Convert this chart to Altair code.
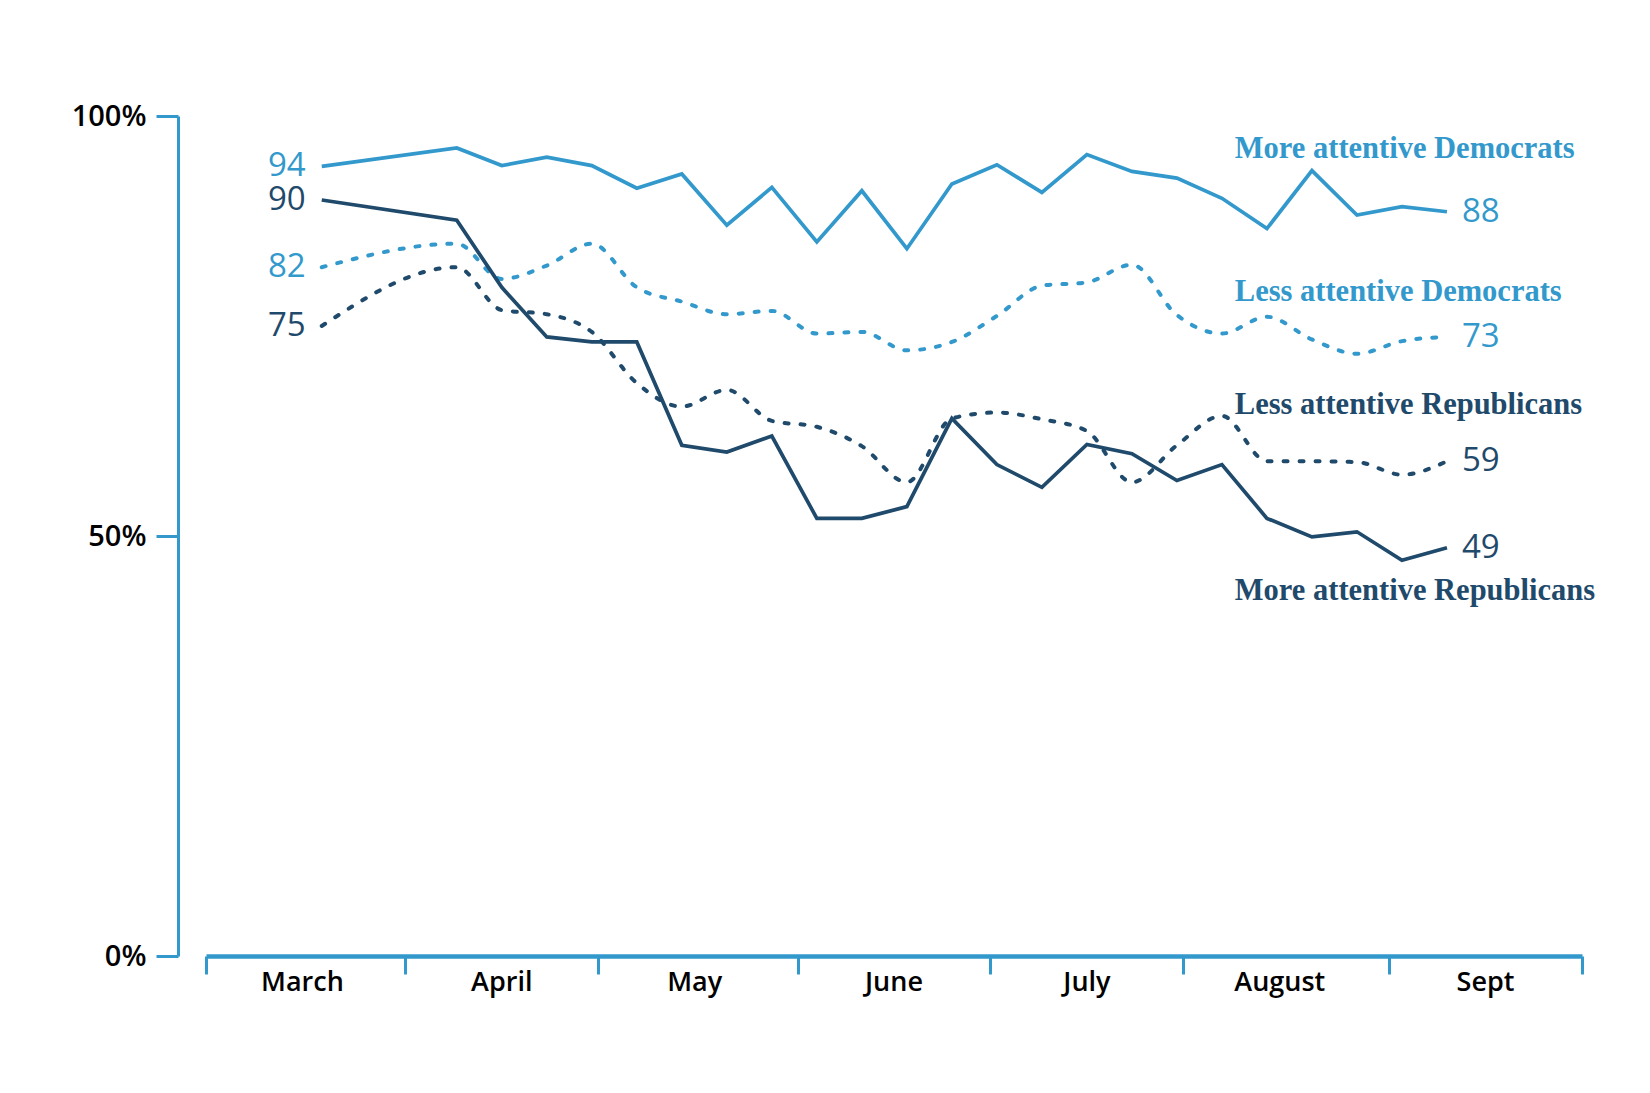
import altair as alt
import pandas as pd

# Survey dates (weekly after a gap)
dates = ["2020-03-19", "2020-04-09", "2020-04-16", "2020-04-23", "2020-04-30",
         "2020-05-07", "2020-05-14", "2020-05-21", "2020-05-28", "2020-06-04",
         "2020-06-11", "2020-06-18", "2020-06-25", "2020-07-02", "2020-07-09",
         "2020-07-16", "2020-07-23", "2020-07-30", "2020-08-06", "2020-08-13",
         "2020-08-20", "2020-08-27", "2020-09-03", "2020-09-10"]

more_dem = [94, 96.2, 94.1, 95.1, 94.1, 91.4, 93.1, 87.0, 91.5, 85.0, 91.1, 84.2,
            91.9, 94.2, 90.9, 95.4, 93.4, 92.6, 90.2, 86.6, 93.5, 88.2, 89.2, 88.6]
less_dem = [82, 84.8, 80.6, 82.2, 84.8, 79.6, 77.9, 76.4, 76.8, 74.1, 74.3, 72.1,
            73.1, 76.2, 79.8, 80.2, 82.3, 76.3, 74.1, 76.1, 73.4, 71.7, 73.2, 73.7]
less_rep = [75, 82.0, 76.9, 76.4, 74.3, 68.2, 65.4, 67.4, 63.7, 63.0, 60.7, 56.4,
            64.0, 64.7, 63.9, 62.5, 56.4, 60.8, 64.3, 58.9, 58.9, 58.8, 57.3, 58.9]
more_rep = [90, 87.6, 79.6, 73.7, 73.1, 73.1, 60.8, 60.0, 61.9, 52.1, 52.1, 53.5,
            64.0, 58.5, 55.8, 60.9, 59.8, 56.6, 58.5, 52.1, 49.9, 50.5, 47.1, 48.6]

series_names = ["More attentive Democrats", "Less attentive Democrats",
                "Less attentive Republicans", "More attentive Republicans"]
series_kind = ["solid", "dotted", "dotted", "solid"]
series_colors = ["#3399cc", "#3399cc", "#1f4a6b", "#1f4a6b"]
series_values = [more_dem, less_dem, less_rep, more_rep]

start_labels = ["94", "82", "75", "90"]
end_labels = ["88", "73", "59", "49"]

# series-name annotation anchors (date, value)
name_dates = ["2020-08-08", "2020-08-08", "2020-08-08", "2020-08-08"]
name_values = [96.1, 79.0, 65.6, 43.4]

months = ["March", "April", "May", "June", "July", "August", "Sept"]
month_mid = ["2020-03-16", "2020-04-16", "2020-05-16", "2020-06-16",
             "2020-07-16", "2020-08-15", "2020-09-16"]
tick_dates = [(2020, 3, 1), (2020, 4, 1), (2020, 5, 1), (2020, 6, 1), (2020, 7, 1),
              (2020, 7, 31), (2020, 9, 1), (2020, 10, 1)]

rows = []
for name, kind, vals in zip(series_names, series_kind, series_values):
    for d, v in zip(dates, vals):
        rows.append({"series": name, "kind": kind, "date": d, "value": v})
df = pd.DataFrame(rows)

start_df = pd.DataFrame({"series": series_names, "date": [dates[0]] * 4,
                         "value": [v[0] for v in series_values], "label": start_labels})
end_df = pd.DataFrame({"series": series_names, "date": [dates[-1]] * 4,
                       "value": [v[-1] for v in series_values], "label": end_labels})
name_df = pd.DataFrame({"series": series_names, "date": name_dates,
                        "value": name_values, "label": series_names})
month_df = pd.DataFrame({"month": months, "date": month_mid})

W, H = 1376, 840
AXIS_BLUE = "#3399cc"

color = alt.Color("series:N", scale=alt.Scale(domain=series_names, range=series_colors),
                  legend=None)

x_enc = alt.X(
    "date:T",
    scale=alt.Scale(type="utc",
                    domain=[alt.DateTime(year=2020, month=3, date=1, utc=True),
                            alt.DateTime(year=2020, month=10, date=1, utc=True)]),
    axis=alt.Axis(values=[alt.DateTime(year=y, month=m, date=d, utc=True) for y, m, d in tick_dates],
                  labels=False, title=None, grid=False, tickSize=18, tickWidth=3,
                  tickColor=AXIS_BLUE, domainColor=AXIS_BLUE, domainWidth=4.5),
)
y_enc = alt.Y(
    "value:Q",
    scale=alt.Scale(domain=[0, 100], nice=False),
    axis=alt.Axis(values=[0, 50, 100], labelExpr="datum.value + '%'", title=None,
                  grid=False, offset=28, tickSize=22, tickWidth=3, tickColor=AXIS_BLUE,
                  domainColor=AXIS_BLUE, domainWidth=3, labelFont="Open Sans",
                  labelFontSize=29, labelFontWeight=600, labelColor="#000000",
                  labelPadding=10),
)

base = alt.Chart(df)

dotted = base.transform_filter(alt.datum.kind == "dotted").mark_line(
    strokeWidth=4, strokeDash=[4, 12], strokeCap="round", interpolate="monotone"
).encode(x=x_enc, y=y_enc, color=color)

solid = base.transform_filter(alt.datum.kind == "solid").mark_line(
    strokeWidth=3.7, strokeJoin="miter"
).encode(x=x_enc, y=y_enc, color=color)

start_text = alt.Chart(start_df).mark_text(
    font="Open Sans", fontSize=33, align="right", baseline="middle", dx=-16
).encode(x="date:T", y="value:Q", text="label:N", color=color)

end_text = alt.Chart(end_df).mark_text(
    font="Open Sans", fontSize=33, align="left", baseline="middle", dx=15
).encode(x="date:T", y="value:Q", text="label:N", color=color)

name_text = alt.Chart(name_df).mark_text(
    font="Liberation Serif", fontSize=30.5, fontWeight="bold", align="left", baseline="middle"
).encode(x="date:T", y="value:Q", text="label:N", color=color)

month_text = alt.Chart(month_df).mark_text(
    font="Open Sans", fontSize=27, fontWeight=600, align="center", baseline="middle",
    color="#000000"
).encode(x="date:T", y=alt.value(H + 27), text="month:N")

chart = alt.layer(dotted, solid, start_text, end_text, name_text, month_text).properties(
    width=W, height=H, autosize="none",
    padding={"left": 198, "top": 108, "right": 60, "bottom": 121},
).configure_view(stroke=None)

chart.save("out.html", embed_options={"renderer": "svg", "actions": False})
